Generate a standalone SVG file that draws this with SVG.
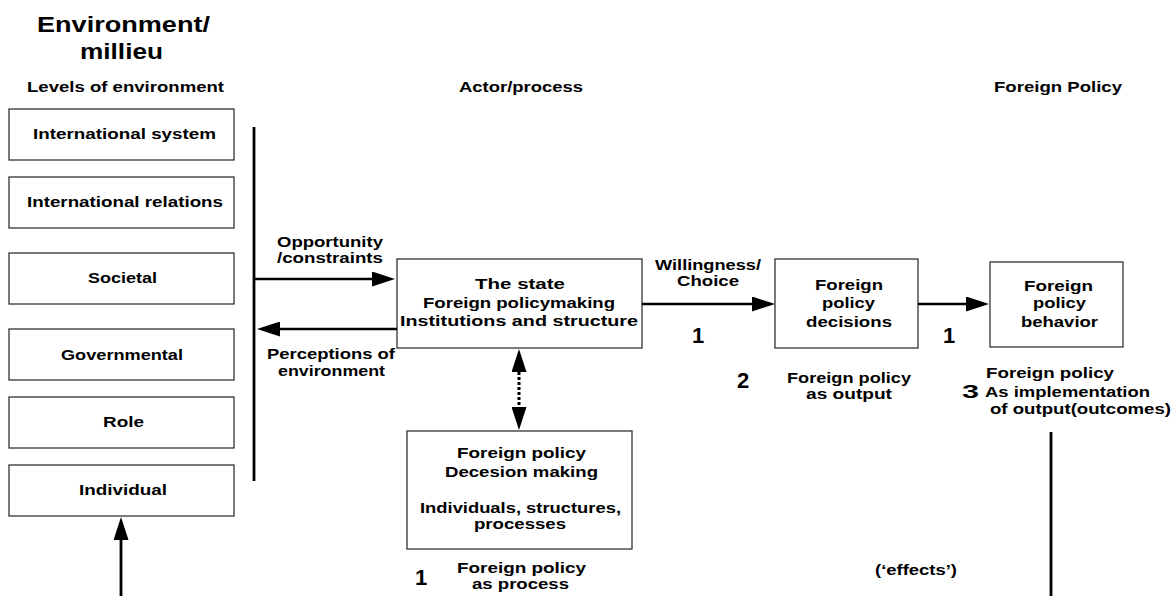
<svg xmlns="http://www.w3.org/2000/svg" width="1174" height="596" viewBox="0 0 1174 596">
<style>
text{font-family:"Liberation Sans",Arial,sans-serif;font-weight:bold;fill:#000;}
.t{font-size:15.3px;}
.h{font-size:22px;}
.n{font-size:22px;}
.box{fill:#fff;stroke:#333;stroke-width:1.3;}
.ln{stroke:#000;stroke-width:2.3;fill:none;}
.bar{stroke:#000;stroke-width:2.8;fill:none;}
.dot{stroke:#000;stroke-width:3;stroke-dasharray:3 2;fill:none;}
</style>
<defs>
<marker id="ah" markerUnits="userSpaceOnUse" markerWidth="23" markerHeight="15" refX="0" refY="7.5" orient="auto-start-reverse">
<path d="M0,0 L23,7.5 L0,15 Z" fill="#000"/>
</marker>
</defs>
<rect width="1174" height="596" fill="#fff"/>

<g id="headings">
<text class="h" x="37" y="32" textLength="173" lengthAdjust="spacingAndGlyphs">Environment/</text>
<text class="h" x="80" y="59" textLength="83" lengthAdjust="spacingAndGlyphs">millieu</text>
<text class="t" x="27" y="92" textLength="197" lengthAdjust="spacingAndGlyphs">Levels of environment</text>
<text class="t" x="459" y="92" textLength="124" lengthAdjust="spacingAndGlyphs">Actor/process</text>
<text class="t" x="994" y="92" textLength="128" lengthAdjust="spacingAndGlyphs">Foreign Policy</text>
</g>

<g id="lvl-international-system">
<rect class="box" x="9" y="109" width="225" height="51"/>
<text class="t" x="33" y="139" textLength="183" lengthAdjust="spacingAndGlyphs">International system</text>
</g>
<g id="lvl-international-relations">
<rect class="box" x="9" y="177" width="225" height="51"/>
<text class="t" x="27" y="207" textLength="196" lengthAdjust="spacingAndGlyphs">International relations</text>
</g>
<g id="lvl-societal">
<rect class="box" x="9" y="253" width="225" height="51"/>
<text class="t" x="88" y="283" textLength="69" lengthAdjust="spacingAndGlyphs">Societal</text>
</g>
<g id="lvl-governmental">
<rect class="box" x="9" y="329" width="225" height="51"/>
<text class="t" x="61" y="360" textLength="122" lengthAdjust="spacingAndGlyphs">Governmental</text>
</g>
<g id="lvl-role">
<rect class="box" x="9" y="397" width="225" height="51"/>
<text class="t" x="103" y="427" textLength="41" lengthAdjust="spacingAndGlyphs">Role</text>
</g>
<g id="lvl-individual">
<rect class="box" x="9" y="465" width="225" height="51"/>
<text class="t" x="79" y="495" textLength="88" lengthAdjust="spacingAndGlyphs">Individual</text>
</g>

<g id="state">
<rect class="box" x="397" y="259" width="245" height="89"/>
<text class="t" x="475" y="289" textLength="90" lengthAdjust="spacingAndGlyphs">The state</text>
<text class="t" x="423" y="308" textLength="192" lengthAdjust="spacingAndGlyphs">Foreign policymaking</text>
<text class="t" x="400" y="326" textLength="238" lengthAdjust="spacingAndGlyphs">Institutions and structure</text>
</g>

<g id="decision-making">
<rect class="box" x="407" y="431" width="225" height="118"/>
<text class="t" x="457" y="458" textLength="129" lengthAdjust="spacingAndGlyphs">Foreign policy</text>
<text class="t" x="445" y="477" textLength="153" lengthAdjust="spacingAndGlyphs">Decesion making</text>
<text class="t" x="420" y="513" textLength="201" lengthAdjust="spacingAndGlyphs">Individuals, structures,</text>
<text class="t" x="474" y="529" textLength="92" lengthAdjust="spacingAndGlyphs">processes</text>
</g>

<g id="decisions">
<rect class="box" x="775" y="259" width="143" height="89"/>
<text class="t" x="815" y="290" textLength="68" lengthAdjust="spacingAndGlyphs">Foreign</text>
<text class="t" x="822" y="308" textLength="53" lengthAdjust="spacingAndGlyphs">policy</text>
<text class="t" x="806" y="327" textLength="86" lengthAdjust="spacingAndGlyphs">decisions</text>
</g>

<g id="behavior">
<rect class="box" x="990" y="262" width="133" height="85"/>
<text class="t" x="1024" y="291" textLength="69" lengthAdjust="spacingAndGlyphs">Foreign</text>
<text class="t" x="1033" y="308" textLength="53" lengthAdjust="spacingAndGlyphs">policy</text>
<text class="t" x="1021" y="327" textLength="77" lengthAdjust="spacingAndGlyphs">behavior</text>
</g>

<g id="connectors">
<line class="bar" x1="254" y1="127" x2="254" y2="481"/>
<line class="ln" x1="254" y1="279" x2="372" y2="279" marker-end="url(#ah)"/>
<line class="ln" x1="397" y1="329" x2="280" y2="329" marker-end="url(#ah)"/>
<line class="ln" x1="642" y1="304" x2="752" y2="304" marker-end="url(#ah)"/>
<line class="ln" x1="918" y1="304" x2="966" y2="304" marker-end="url(#ah)"/>
<line class="dot" x1="519" y1="372" x2="519" y2="407" marker-start="url(#ah)" marker-end="url(#ah)"/>
<line class="bar" x1="121" y1="596" x2="121" y2="540" marker-end="url(#ah)"/>
<line class="bar" x1="1051" y1="432" x2="1051" y2="596"/>
</g>

<g id="labels">
<text class="t" x="277" y="247" textLength="106" lengthAdjust="spacingAndGlyphs">Opportunity</text>
<text class="t" x="277" y="263" textLength="106" lengthAdjust="spacingAndGlyphs">/constraints</text>
<text class="t" x="267" y="359" textLength="128" lengthAdjust="spacingAndGlyphs">Perceptions of</text>
<text class="t" x="278" y="376" textLength="107" lengthAdjust="spacingAndGlyphs">environment</text>
<text class="t" x="655" y="270" textLength="106" lengthAdjust="spacingAndGlyphs">Willingness/</text>
<text class="t" x="677" y="286" textLength="62" lengthAdjust="spacingAndGlyphs">Choice</text>
<text class="n" x="692" y="343">1</text>
<text class="n" x="943" y="343">1</text>
<text class="n" x="737" y="388">2</text>
<text class="t" x="787" y="383" textLength="124" lengthAdjust="spacingAndGlyphs">Foreign policy</text>
<text class="t" x="806" y="399" textLength="86" lengthAdjust="spacingAndGlyphs">as output</text>
<text class="t" x="986" y="378" textLength="128" lengthAdjust="spacingAndGlyphs">Foreign policy</text>
<text x="962" y="398" style="font-size:19px" textLength="17" lengthAdjust="spacingAndGlyphs">3</text>
<text class="t" x="985" y="397" textLength="165" lengthAdjust="spacingAndGlyphs">As implementation</text>
<text class="t" x="990" y="414" textLength="181" lengthAdjust="spacingAndGlyphs">of output(outcomes)</text>
<text class="n" x="415" y="585">1</text>
<text class="t" x="457" y="573" textLength="129" lengthAdjust="spacingAndGlyphs">Foreign policy</text>
<text class="t" x="472" y="589" textLength="97" lengthAdjust="spacingAndGlyphs">as process</text>
<text class="t" x="875" y="575" textLength="82" lengthAdjust="spacingAndGlyphs">(‘effects’)</text>
</g>
</svg>
